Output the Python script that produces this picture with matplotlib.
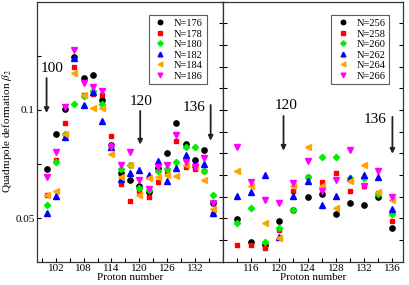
import numpy as np
import matplotlib as mpl
from matplotlib import pyplot as plt

mpl.rcParams['font.family'] = ['Liberation Serif', 'DejaVu Serif']
mpl.rcParams['mathtext.fontset'] = 'stix'

# left panel: N=176..186, Z=100..136
z_left = np.arange(100, 137, 2)
n176 = [0.0728, 0.0888, 0.1006, 0.1245, 0.1148, 0.1159, 0.1047, 0.0838, 0.0708, 0.0679,
        0.0650, 0.0621, 0.0733, 0.0800, 0.0939, 0.0843, 0.0769, 0.0817, 0.0570]
n178 = [0.0609, 0.0771, 0.0939, 0.1199, 0.1067, 0.1075, 0.1069, 0.0879, 0.0659, 0.0579,
        0.0628, 0.0598, 0.0667, 0.0716, 0.0858, 0.0739, 0.0726, 0.0720, 0.0518]
n180 = [0.0560, 0.0758, 0.0890, 0.1029, 0.1065, 0.1087, 0.1026, 0.0835, 0.0728, 0.0748,
        0.0639, 0.0632, 0.0720, 0.0726, 0.0761, 0.0830, 0.0827, 0.0720, 0.0609]
n182 = [0.0526, 0.0601, 0.0873, 0.1240, 0.1021, 0.1083, 0.0951, 0.0830, 0.0682, 0.0710,
        0.0723, 0.0700, 0.0763, 0.0674, 0.0733, 0.0792, 0.0751, 0.0751, 0.0524]
n184 = [0.0609, 0.0628, 0.0888, 0.1168, 0.1067, 0.1008, 0.1008, 0.0797, 0.0690, 0.0748,
        0.0609, 0.0687, 0.0690, 0.0702, 0.0697, 0.0745, 0.0740, 0.0678, 0.0544]
n186 = [0.0690, 0.0807, 0.1015, 0.1275, 0.1125, 0.1106, 0.1087, 0.0830, 0.0748, 0.0806,
        0.0678, 0.0636, 0.0738, 0.0748, 0.0885, 0.0761, 0.0735, 0.0777, 0.0570]

# right panel: N=256..266, Z=114..136
z_right = np.arange(114, 137, 2)
n256 = [0.0499, 0.0391, 0.0379, 0.0488, 0.0540, 0.0598, 0.0610, 0.0518, 0.0570, 0.0560, 0.0598, 0.0457]
n258 = [0.0379, 0.0379, 0.0361, 0.0445, 0.0628, 0.0690, 0.0667, 0.0710, 0.0628, 0.0648, 0.0618, 0.0488]
n260 = [0.0480, 0.0549, 0.0389, 0.0457, 0.0540, 0.0690, 0.0781, 0.0781, 0.0687, 0.0687, 0.0610, 0.0522]
n262 = [0.0601, 0.0621, 0.0700, 0.0413, 0.0601, 0.0670, 0.0563, 0.0601, 0.0685, 0.0700, 0.0690, 0.0541]
n264 = [0.0720, 0.0648, 0.0480, 0.0411, 0.0648, 0.0827, 0.0648, 0.0549, 0.0670, 0.0748, 0.0621, 0.0586]
n266 = [0.0827, 0.0667, 0.0586, 0.0570, 0.0664, 0.0766, 0.0628, 0.0678, 0.0817, 0.0648, 0.0717, 0.0598]

left_series = [n176, n178, n180, n182, n184, n186]
left_names = ['N=176', 'N=178', 'N=180', 'N=182', 'N=184', 'N=186']
right_series = [n256, n258, n260, n262, n264, n266]
right_names = ['N=256', 'N=258', 'N=260', 'N=262', 'N=264', 'N=266']

colours = ['black', 'red', '#00ee00', 'blue', 'orange', 'magenta']
markers = ['o', 's', 'D', '^', '<', 'v']
msizes = [3.8, 3.3, 3.2, 4.0, 4.0, 4.0]

# arrows: (x, text y, arrow top, arrow bottom, label, text x)
left_arrows = [(100, 0.1190, 0.1147, 0.0986, '100', 101.2),
               (120.2, 0.1040, 0.0995, 0.0840, '120', 120.4),
               (135.4, 0.1010, 0.1023, 0.0858, '136', 131.8)]
right_arrows = [(120.6, 0.1020, 0.0972, 0.0812, '120', 120.9),
                (136, 0.0955, 0.0968, 0.0798, '136', 133.5)]

fig = plt.figure(figsize=(4.09, 2.85), dpi=100)
ax1 = fig.add_axes([0.0912, 0.0818, 0.4533, 0.9129])
ax2 = fig.add_axes([0.5445, 0.0818, 0.4409, 0.9129])


def draw(ax, z, series, names, arrows):
    for i in range(len(series)):
        ax.plot(z, series[i], linestyle='none', marker=markers[i], ms=msizes[i],
                color=colours[i], mec=colours[i], label=names[i])
    for x, ty, y0, y1, lab, tx in arrows:
        ax.annotate('', xy=(x, y1), xytext=(x, y0),
                    arrowprops=dict(arrowstyle='-|>', lw=1.3, color='#222222',
                                    mutation_scale=7, shrinkA=0, shrinkB=0))
        ax.text(tx, ty, lab, fontsize=11, ha='center', va='center')
    leg = ax.legend(loc='upper right', fontsize=7.5, frameon=True, fancybox=False,
                    labelspacing=0.12, handletextpad=0.6, handlelength=1.5,
                    borderpad=0.35, borderaxespad=0, markerscale=0.85)
    leg.get_frame().set_edgecolor('#333333')
    leg.get_frame().set_linewidth(0.8)
    for s in ax.spines.values():
        s.set_linewidth(0.9)
        s.set_color('#333333')
    ax.set_ylim(0.03, 0.15)
    ax.set_xlabel('Proton number', fontsize=8, labelpad=0)
    ax.tick_params(which='both', direction='in', right=True, top=False,
                   length=3, width=0.8, labelsize=8, pad=2)
    return leg


leg1 = draw(ax1, z_left, left_series, left_names, left_arrows)
leg1.set_bbox_to_anchor((0.914, 0.948))
ax1.set_xlim(98, 138)
ax1.set_xticks(np.arange(102, 133, 6))
ax1.set_xticks(np.arange(99, 139, 3), minor=True)
ax1.set_yticks([0.05, 0.1])
ax1.set_yticklabels(['0.05', '0.1'])
ax1.set_yticks([0.075, 0.125], minor=True)
ax1.tick_params(which='both', axis='y', right=False)
ax1r = ax1.secondary_yaxis('right')
ax1r.set_yticks(np.arange(0.04, 0.151, 0.01))
ax1r.tick_params(direction='in', length=3, width=0.8, labelright=False)
ax1.set_ylabel(r'Quadrupole deformation $\beta_2$', fontsize=8)
ax1.yaxis.set_label_coords(-0.125, 0.5)

leg2 = draw(ax2, z_right, right_series, right_names, right_arrows)
leg2.set_bbox_to_anchor((0.924, 0.948))
ax2.set_xlim(112, 137.5)
ax2.set_xticks(np.arange(116, 137, 4))
ax2.set_xticks(np.arange(114, 137, 2), minor=True)
ax2.set_yticks(np.arange(0.04, 0.151, 0.01))
ax2.tick_params(axis='y', labelleft=False)

plt.savefig('out.png', dpi=100)
